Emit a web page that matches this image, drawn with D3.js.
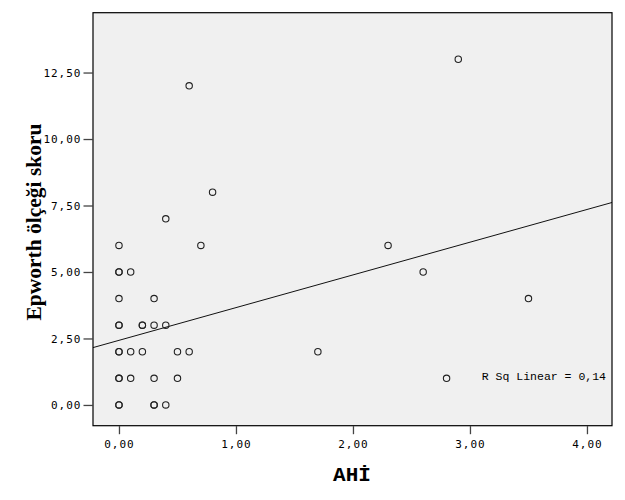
<!DOCTYPE html>
<html>
<head>
<meta charset="utf-8">
<script src="https://cdn.jsdelivr.net/npm/d3@7"></script>
<style>
  html, body { margin: 0; padding: 0; background: #ffffff; }
  svg { display: block; }
</style>
</head>
<body>
<script>
// ---- data ----
const ahiValues   = [0, 0, 0.3, 0.3, 0.4,
                     0, 0, 0.1, 0.3, 0.5, 2.8,
                     0, 0, 0.1, 0.2, 0.5, 0.6, 1.7,
                     0, 0, 0.2, 0.2, 0.3, 0.4,
                     0, 0.3, 3.5,
                     0, 0, 0.1, 2.6,
                     0, 0.7, 2.3,
                     0.4, 0.8, 0.6, 2.9];
const epworthValues = [0, 0, 0, 0, 0,
                       1, 1, 1, 1, 1, 1,
                       2, 2, 2, 2, 2, 2, 2,
                       3, 3, 3, 3, 3, 3,
                       4, 4, 4,
                       5, 5, 5, 5,
                       6, 6, 6,
                       7, 8, 12, 13];
const xTickValues = [0, 1, 2, 3, 4];
const yTickValues = [0, 2.5, 5, 7.5, 10, 12.5];
const fitIntercept = 2.43;
const fitSlope = 1.23;
const rSqLabel = "R Sq Linear = 0,14";
const xTitle = "AHİ";
const yTitle = "Epworth ölçeği skoru";

// ---- layout ----
const W = 625, H = 500;
const pL = 93, pT = 12.7, pR = 612, pB = 425.7;

const svg = d3.select("body").append("svg").attr("width", W).attr("height", H);

const x = d3.scaleLinear().domain([-0.222, 4.214]).range([pL, pR]);
const y = d3.scaleLinear().domain([-0.78, 14.75]).range([pB, pT]);

const fmt = v => d3.format(".2f")(v).replace(".", ",");

// plot background
svg.append("rect")
  .attr("x", pL).attr("y", pT)
  .attr("width", pR - pL).attr("height", pB - pT)
  .attr("fill", "#f0f0f0");

// axes
const yAxis = svg.append("g")
  .attr("transform", `translate(${pL - 0.5},0)`)
  .call(d3.axisLeft(y).tickValues(yTickValues).tickSize(9).tickPadding(2).tickFormat(fmt));
const xAxis = svg.append("g")
  .attr("transform", `translate(0,${pB + 0.5})`)
  .call(d3.axisBottom(x).tickValues(xTickValues).tickSize(8).tickPadding(6).tickFormat(fmt));

[yAxis, xAxis].forEach(g => {
  g.select(".domain").remove();
  g.selectAll(".tick line").attr("stroke", "#444").attr("stroke-width", 1.3);
  g.selectAll(".tick text")
    .attr("fill", "#000")
    .style("font-family", "'DejaVu Sans Mono', monospace")
    .style("font-size", "11px")
    .style("letter-spacing", "1px");
});

// clip for plot contents
svg.append("clipPath").attr("id", "plotclip")
  .append("rect").attr("x", pL).attr("y", pT)
  .attr("width", pR - pL).attr("height", pB - pT);

const plot = svg.append("g").attr("clip-path", "url(#plotclip)");

// regression line
const xd = x.domain();
plot.append("line")
  .attr("x1", x(xd[0])).attr("y1", y(fitIntercept + fitSlope * xd[0]))
  .attr("x2", x(xd[1])).attr("y2", y(fitIntercept + fitSlope * xd[1]))
  .attr("stroke", "#111").attr("stroke-width", 1);

// points
const pts = ahiValues.map((v, i) => ({ ahi: v, ep: epworthValues[i] }));
plot.selectAll("circle.pt").data(pts).join("circle")
  .attr("class", "pt")
  .attr("cx", d => x(d.ahi))
  .attr("cy", d => y(d.ep))
  .attr("r", 3.2)
  .attr("fill", "none")
  .attr("stroke", "#222")
  .attr("stroke-width", 1.1);

// frame
svg.append("rect")
  .attr("x", pL).attr("y", pT)
  .attr("width", pR - pL).attr("height", pB - pT)
  .attr("fill", "none").attr("stroke", "#000").attr("stroke-width", 1.2);

// R squared label
svg.append("text")
  .attr("x", 606).attr("y", 380)
  .attr("text-anchor", "end")
  .style("font-family", "'Liberation Mono', 'Courier New', monospace")
  .style("font-size", "11.5px")
  .attr("fill", "#000")
  .text(rSqLabel);

// axis titles
svg.append("text")
  .attr("x", (pL + pR) / 2 - 0.5).attr("y", 481)
  .attr("text-anchor", "middle")
  .style("font-family", "'Liberation Mono', 'Courier New', monospace")
  .style("font-weight", "bold")
  .style("font-size", "21px")
  .attr("fill", "#000")
  .text(xTitle);

svg.append("text")
  .attr("transform", "translate(41,222) rotate(-90)")
  .attr("text-anchor", "middle")
  .style("font-family", "'Liberation Serif', 'Times New Roman', serif")
  .style("font-weight", "bold")
  .style("font-size", "21.5px")
  .attr("fill", "#000")
  .text(yTitle);
</script>
</body>
</html>
